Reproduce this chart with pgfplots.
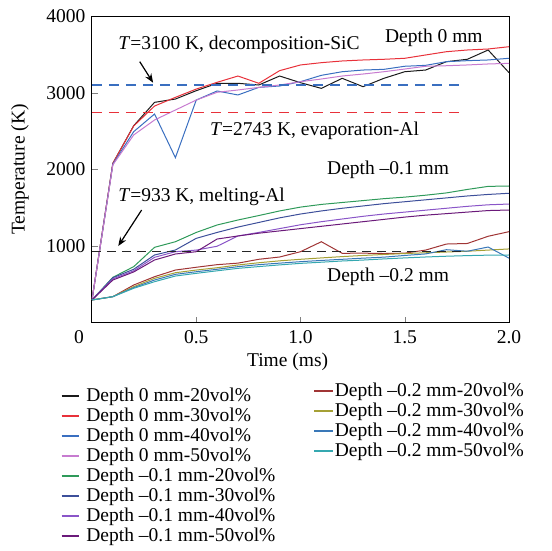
\documentclass[border=0pt]{standalone}
\usepackage{fontspec}
\setmainfont{Liberation Serif}
\usepackage{pgfplots}
\usepackage{pgfplotstable}
\pgfplotsset{compat=1.18}
\usetikzlibrary{arrows.meta}

\definecolor{cA}{HTML}{1A1A1A}
\definecolor{cB}{HTML}{E8313A}
\definecolor{cC}{HTML}{3A6FC0}
\definecolor{cD}{HTML}{C77BD0}
\definecolor{cE}{HTML}{2F9A5A}
\definecolor{cF}{HTML}{3D4F9A}
\definecolor{cG}{HTML}{8A55C8}
\definecolor{cH}{HTML}{6B1A7A}
\definecolor{cI}{HTML}{A03535}
\definecolor{cJ}{HTML}{A5A035}
\definecolor{cK}{HTML}{3A78B8}
\definecolor{cL}{HTML}{35A8B0}

\pgfplotstableread{
t   a    b    c    d
0.0 300  300  300  300
0.1 2080 2080 2070 2060
0.2 2570 2567 2493 2450
0.3 2875 2827 2723 2645
0.4 2918 2940 2154 2775
0.5 3027 3048 2905 2905
0.6 3123 3136 3023 3006
0.7 3123 3218 2971 3036
0.8 3101 3123 3070 3070
0.9 3218 3288 3088 3101
1.0 3131 3362 3144 3144
1.1 3057 3392 3227 3179
1.2 3188 3414 3274 3218
1.3 3079 3427 3296 3244
1.4 3188 3436 3305 3274
1.5 3274 3449 3345 3309
1.6 3296 3492 3357 3345
1.7 3405 3535 3405 3352
1.8 3436 3557 3418 3362
1.9 3557 3570 3427 3375
2.0 3262 3600 3449 3383
}\depthzero

\pgfplotstableread{
t   a    b    c    d
0.0 300  300  300  300
0.1 595  590  575  560
0.2 734  700  680  665
0.3 986  886  856  821
0.4 1059 951  929  899
0.5 1180 1103 950  929
0.6 1277 1180 1000 1094
0.7 1342 1250 1134 1134
0.8 1400 1310 1180 1170
0.9 1460 1370 1230 1200
1.0 1510 1420 1280 1230
1.1 1545 1460 1320 1260
1.2 1570 1495 1355 1290
1.3 1595 1525 1390 1320
1.4 1620 1555 1420 1350
1.5 1640 1580 1445 1380
1.6 1665 1605 1470 1405
1.7 1695 1630 1495 1425
1.8 1740 1655 1520 1445
1.9 1780 1675 1540 1465
2.0 1785 1690 1550 1472
}\depthone

\pgfplotstableread{
t   a    b    c    d
0.0 300  300  300  300
0.1 343  343  343  343
0.2 495  473  460  452
0.3 603  582  560  538
0.4 690  655  634  612
0.5 726  690  668  647
0.6 760  720  700  680
0.7 780  756  734  712
0.8 830  785  760  735
0.9 860  810  780  757
1.0 929  830  799  777
1.1 1059 848  815  792
1.2 908  865  830  808
1.3 910  880  845  820
1.4 905  893  858  835
1.5 910  905  880  848
1.6 950  915  900  860
1.7 1029 925  955  870
1.8 1036 935  935  878
1.9 1130 950  990  884
2.0 1190 965  845  886
}\depthtwo

\begin{document}
\begin{tikzpicture}[font=\fontsize{19.5}{23}\selectfont]
\useasboundingbox (0,0) rectangle (552pt,551pt);
\begin{axis}[
  at={(92pt,228pt)}, anchor=south west,
  scale only axis, width=417pt, height=307pt,
  xmin=0, xmax=2, ymin=0, ymax=4000,
  xtick={0.5,1,1.5,2}, xticklabels={0.5,1.0,1.5,2.0},
  ytick={1000,2000,3000,4000},
  scaled y ticks=false,
  /pgf/number format/1000 sep={},
  /pgf/number format/assume math mode=true,
  tick align=inside, tick pos=left, major tick length=6pt,
  tick label style={font=\fontsize{19.5}{23}\selectfont},
  xticklabel style={yshift=-4pt},
  yticklabel style={xshift=-3pt},
  extra x ticks={0}, extra x tick labels={0},
  extra x tick style={major tick length=0pt, xticklabel style={xshift=-13pt}},
  axis line style={line width=1pt},
  xlabel={Time (ms)}, ylabel={Temperature (K)},
  xlabel style={at={(axis description cs:0.469,-0.128)}, anchor=center},
  ylabel style={at={(axis description cs:-0.1727,0.5)}, anchor=center},
  every axis plot/.append style={line width=1pt},
  legend cell align=left,
  legend image code/.code={\draw[#1, line width=1.7pt] (0pt,0pt) -- (17pt,0pt);},
  legend style={draw=none, fill=none, inner sep=0pt, row sep=3pt,
    at={(axis description cs:-0.0755,-0.2085)}, anchor=north west,
    font=\fontsize{19.5}{23}\selectfont,
    nodes={inner xsep=7pt, inner ysep=1pt}},
]
\addplot[cA] table[x=t,y=a]{\depthzero};\addlegendentry{Depth 0 mm-20vol\%}
\addplot[cB] table[x=t,y=b]{\depthzero};\addlegendentry{Depth 0 mm-30vol\%}
\addplot[cC] table[x=t,y=c]{\depthzero};\addlegendentry{Depth 0 mm-40vol\%}
\addplot[cD] table[x=t,y=d]{\depthzero};\addlegendentry{Depth 0 mm-50vol\%}
\addplot[cE] table[x=t,y=a]{\depthone};\addlegendentry{Depth –0.1 mm-20vol\%}
\addplot[cF] table[x=t,y=b]{\depthone};\addlegendentry{Depth –0.1 mm-30vol\%}
\addplot[cG] table[x=t,y=c]{\depthone};\addlegendentry{Depth –0.1 mm-40vol\%}
\addplot[cH] table[x=t,y=d]{\depthone};\addlegendentry{Depth –0.1 mm-50vol\%}
\addplot[cI, forget plot] table[x=t,y=a]{\depthtwo};
\addplot[cJ, forget plot] table[x=t,y=b]{\depthtwo};
\addplot[cK, forget plot] table[x=t,y=c]{\depthtwo};
\addplot[cL, forget plot] table[x=t,y=d]{\depthtwo};
\addplot[cC, line width=1.2pt, dash pattern=on 10pt off 7pt, forget plot] coordinates {(0,3100) (1.78,3100)};
\addplot[cB, line width=1.2pt, dash pattern=on 10pt off 7pt, forget plot] coordinates {(0,2743) (1.78,2743)};
\addplot[black!85, line width=1.4pt, dash pattern=on 9pt off 6pt, forget plot] coordinates {(0,933) (1.79,933)};
\node[anchor=west, inner sep=0pt] at (axis cs:0.125,3622) {\textit{T}=3100 K, decomposition-SiC};
\node[anchor=west, inner sep=0pt] at (axis cs:0.566,2502) {\textit{T}=2743 K, evaporation-Al};
\node[anchor=west, inner sep=0pt] at (axis cs:1.405,3713) {Depth 0 mm};
\node[anchor=west, inner sep=0pt] at (axis cs:1.127,1993) {Depth –0.1 mm};
\node[anchor=west, inner sep=0pt] at (axis cs:0.125,1642) {\textit{T}=933 K, melting-Al};
\node[anchor=west, inner sep=0pt] at (axis cs:1.127,599) {Depth –0.2 mm};
\draw[line width=1.2pt, -{Stealth[length=9pt,width=7pt]}] (axis cs:0.229,3405) -- (axis cs:0.293,3131);
\draw[line width=1.2pt, -{Stealth[length=9pt,width=7pt]}] (axis cs:0.238,1472) -- (axis cs:0.126,1003);
\end{axis}
\begin{axis}[
  at={(92pt,228pt)}, anchor=south west,
  scale only axis, width=417pt, height=307pt,
  hide axis, xmin=0, xmax=1, ymin=0, ymax=1,
  legend cell align=left,
  legend image code/.code={\draw[#1, line width=1.7pt] (0pt,0pt) -- (19pt,0pt);},
  legend style={draw=none, fill=none, inner sep=0pt, row sep=3pt,
    at={(axis description cs:0.530,-0.192)}, anchor=north west,
    font=\fontsize{19.5}{23}\selectfont,
    nodes={inner xsep=1pt, inner ysep=1pt}},
]
\addlegendimage{cI}\addlegendentry{Depth –0.2 mm-20vol\%}
\addlegendimage{cJ}\addlegendentry{Depth –0.2 mm-30vol\%}
\addlegendimage{cK}\addlegendentry{Depth –0.2 mm-40vol\%}
\addlegendimage{cL}\addlegendentry{Depth –0.2 mm-50vol\%}
\end{axis}
\end{tikzpicture}
\end{document}
